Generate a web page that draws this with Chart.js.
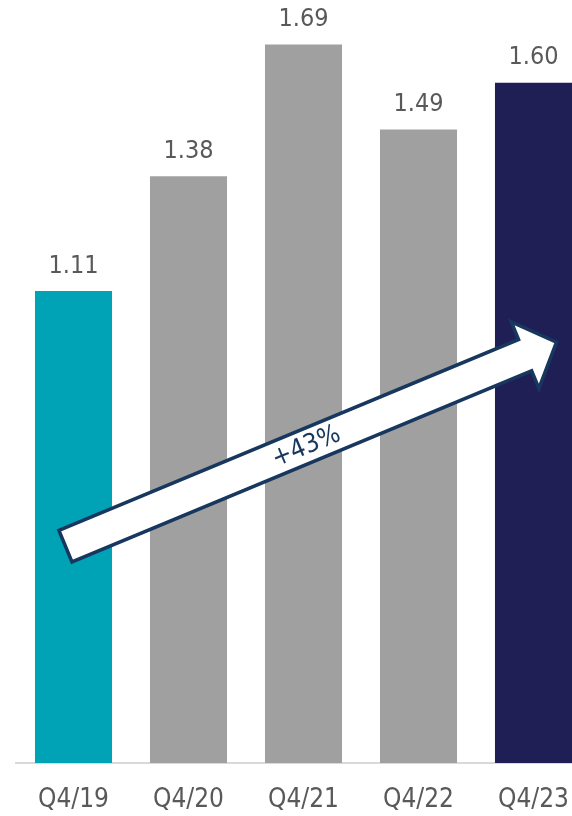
<!DOCTYPE html>
<html>
<head>
<meta charset="utf-8">
<script src="https://cdn.jsdelivr.net/npm/chart.js@4/dist/chart.umd.min.js"></script>
<style>
  html, body { margin: 0; padding: 0; background: #ffffff; overflow: hidden; }
  #wrap { position: relative; width: 600px; height: 816px; }
</style>
</head>
<body>
<div id="wrap"><canvas id="chart"></canvas></div>
<script>
// Quarterly values
const categories = ['Q4/19', 'Q4/20', 'Q4/21', 'Q4/22', 'Q4/23'];
const values = [1.11, 1.38, 1.69, 1.49, 1.60];
const barColors = ['#00A3B5', '#A0A0A0', '#A0A0A0', '#A0A0A0', '#1F1E55'];
const growthLabel = '+43%';
// Arrow ends as [category index, value]
const arrowFrom = [-0.07, 0.51];
const arrowTo = [4.2, 0.99];

const FONT = '"DejaVu Sans Condensed", "DejaVu Sans", "Liberation Sans", sans-serif';
const TEXT = '#595959';

// Value labels above each bar
const valueLabels = {
  id: 'valueLabels',
  afterDatasetsDraw(chart) {
    const ctx = chart.ctx;
    const meta = chart.getDatasetMeta(0);
    ctx.save();
    ctx.font = '25px ' + FONT;
    ctx.fillStyle = TEXT;
    ctx.textAlign = 'center';
    ctx.textBaseline = 'middle';
    meta.data.forEach((bar, i) => {
      ctx.fillText(values[i].toFixed(2), bar.x, bar.y - 25);
    });
    ctx.restore();
  }
};

// Growth arrow across the bars
const growthArrow = {
  id: 'growthArrow',
  afterDatasetsDraw(chart) {
    const xs = chart.scales.x, ys = chart.scales.y;
    const x0 = xs.getPixelForValue(arrowFrom[0]), y0 = ys.getPixelForValue(arrowFrom[1]);
    const x1 = xs.getPixelForValue(arrowTo[0]), y1 = ys.getPixelForValue(arrowTo[1]);
    const len = Math.hypot(x1 - x0, y1 - y0);
    const ang = Math.atan2(y1 - y0, x1 - x0);
    const shaft = 17, head = 36, headLen = 34;
    const ctx = chart.ctx;
    ctx.save();
    ctx.translate(x0, y0);
    ctx.rotate(ang);
    ctx.beginPath();
    ctx.moveTo(0, -shaft);
    ctx.lineTo(len - headLen, -shaft);
    ctx.lineTo(len - headLen, -head);
    ctx.lineTo(len, 0);
    ctx.lineTo(len - headLen, head);
    ctx.lineTo(len - headLen, shaft);
    ctx.lineTo(0, shaft);
    ctx.closePath();
    ctx.fillStyle = '#ffffff';
    ctx.fill();
    ctx.lineWidth = 3.5;
    ctx.lineJoin = 'miter';
    ctx.strokeStyle = '#17375E';
    ctx.stroke();
    ctx.font = '26px ' + FONT;
    ctx.fillStyle = '#17375E';
    ctx.textAlign = 'center';
    ctx.textBaseline = 'middle';
    ctx.fillText(growthLabel, len * 0.49, 1);
    ctx.restore();
  }
};

new Chart(document.getElementById('chart'), {
  type: 'bar',
  data: {
    labels: categories,
    datasets: [{
      data: values,
      backgroundColor: barColors,
      borderWidth: 0,
      categoryPercentage: 1,
      barPercentage: 0.67
    }]
  },
  options: {
    responsive: true,
    maintainAspectRatio: false,
    animation: false,
    devicePixelRatio: 1,
    layout: { padding: { left: 16, right: 9, top: 2, bottom: 1 } },
    plugins: { legend: { display: false }, tooltip: { enabled: false } },
    scales: {
      x: {
        grid: { display: false },
        border: { display: true, color: '#D9D9D9', width: 2 },
        ticks: { color: TEXT, font: { family: FONT, size: 26 }, padding: 14, maxRotation: 0 },
        afterFit(scale) { scale.height = 52; }
      },
      y: {
        display: false,
        min: 0,
        max: 1.79
      }
    }
  },
  plugins: [growthArrow, valueLabels]
});
</script>
</body>
</html>
